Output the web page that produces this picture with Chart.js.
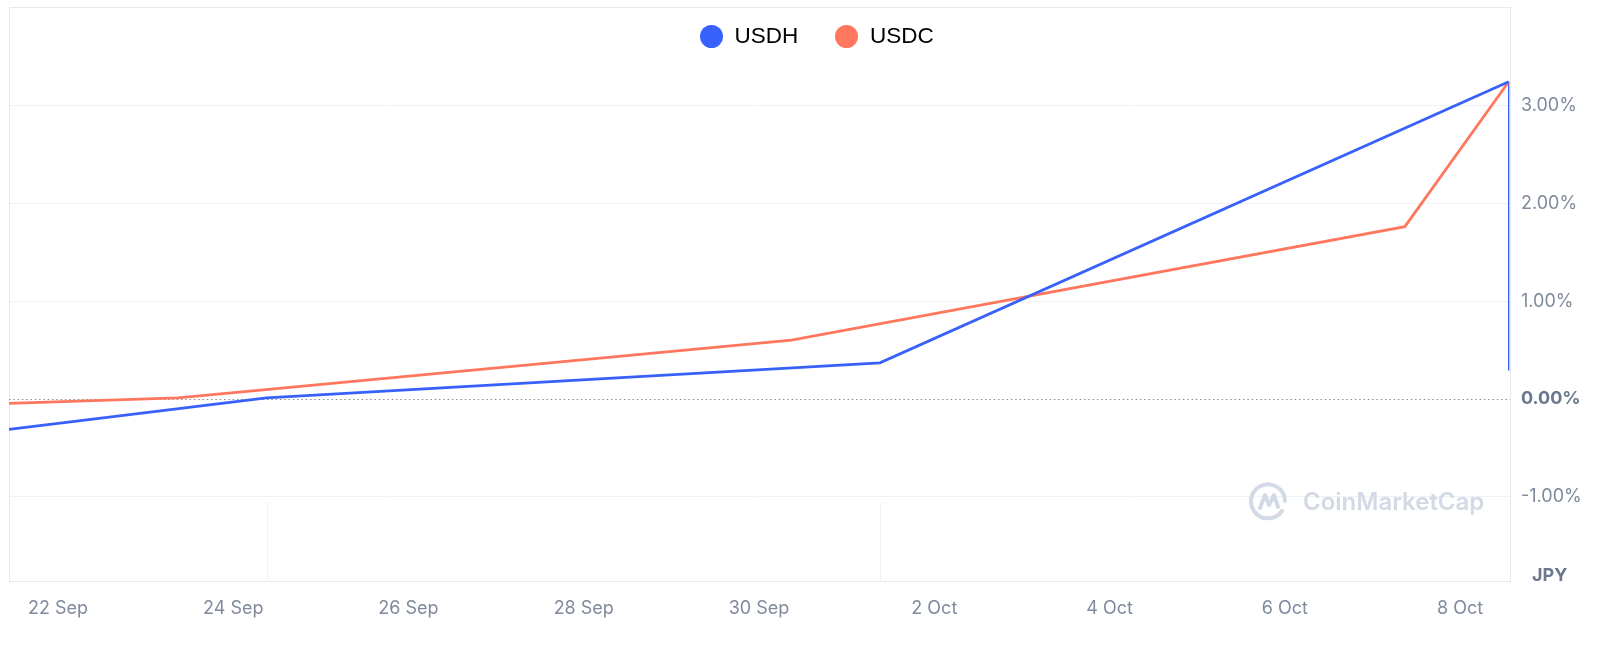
<!DOCTYPE html>
<html><head><meta charset="utf-8">
<script src="https://cdn.jsdelivr.net/npm/chart.js@4.4.0/dist/chart.umd.min.js"></script>
<style>
html,body{margin:0;padding:0;background:#fff;}
#wrap{position:relative;width:1600px;height:649px;overflow:hidden;background:#fff;}
#c{position:absolute;left:0;top:0;}
.lg-item{position:absolute;top:24px;height:24px;display:flex;align-items:center;font:22.5px "Liberation Sans",Arial,sans-serif;color:#000;white-space:nowrap;}
.lg-dot{width:23px;height:23px;border-radius:50%;margin-right:12px;}
#jpy{position:absolute;left:1532px;top:564px;font:700 18px Inter,sans-serif;color:#6b778c;}
#wm{position:absolute;left:1249px;top:481px;display:flex;align-items:center;color:#d3d9e5;font:600 24px Inter,sans-serif;pointer-events:none;}
#wm svg{margin-right:13px;}
</style>
</head><body>
<div id="wrap">
<canvas id="c" width="1600" height="649"></canvas>
<div id="legend"></div>
<div id="jpy">JPY</div>
<div id="wm"><svg width="41" height="41" viewBox="0 0 41 41"><path d="M33 30 A17 17 0 1 1 36 20" fill="none" stroke="#d3d9e5" stroke-width="4" stroke-linecap="round"/><path d="M11 27 L16 14 L20 24 L25 14 L29 26" fill="none" stroke="#d3d9e5" stroke-width="4" stroke-linejoin="round" stroke-linecap="round"/></svg><span>CoinMarketCap</span></div>
</div>
<script>
// ---- data ----
const seriesNames = ['USDH', 'USDC'];
const seriesColors = ['#3861fb', '#ff775f'];
// x = days after 22 Sep 00:00
const usdhDays = [-0.559, 2.38, 9.38, 16.555];
const usdhValues = [-0.314, 0.01, 0.368, 3.247];
const usdcDays = [-0.559, 1.37, 8.37, 15.37, 16.555];
const usdcValues = [-0.048, 0.01, 0.60, 1.763, 3.247];
const markerDays = [16.555, 16.555];
const markerValues = [3.247, 0.29];
const volumeDays = [2.38, 9.38];
const volumeTop = -1.06;
const xTickDays = [0, 2, 4, 6, 8, 10, 12, 14, 16];
const xTickLabels = ['22 Sep', '24 Sep', '26 Sep', '28 Sep', '30 Sep', '2 Oct', '4 Oct', '6 Oct', '8 Oct'];
const yTickValues = [-1, 0, 1, 2, 3];

// ---- legend (HTML) ----
const legendLefts = [699.5, 835];
const legendEl = document.getElementById('legend');
seriesNames.forEach((n, i) => {
  const d = document.createElement('div');
  d.className = 'lg-item';
  d.style.left = legendLefts[i] + 'px';
  d.innerHTML = '<span class="lg-dot" style="background:' + seriesColors[i] + '"></span><span>' + n + '</span>';
  legendEl.appendChild(d);
});

const toPts = (xs, ys) => xs.map((x, i) => ({x: x, y: ys[i]}));

const framePlugin = {
  id: 'frame',
  beforeDatasetsDraw(chart) {
    const {ctx, chartArea: a, scales: {x, y}} = chart;
    ctx.save();
    ctx.lineWidth = 1;
    ctx.strokeStyle = '#e9e9e9';
    ctx.beginPath();
    ctx.moveTo(a.left + 0.5, a.bottom);
    ctx.lineTo(a.left + 0.5, a.top + 0.5);
    ctx.lineTo(a.right, a.top + 0.5);
    ctx.stroke();
    ctx.strokeStyle = '#eff2f5';
    volumeDays.forEach(d => {
      const px = Math.round(x.getPixelForValue(d)) + 0.5;
      ctx.beginPath();
      ctx.moveTo(px, y.getPixelForValue(volumeTop));
      ctx.lineTo(px, a.bottom);
      ctx.stroke();
    });
    const zy = Math.round(y.getPixelForValue(0)) + 0.5;
    ctx.strokeStyle = '#8c8c8c';
    ctx.setLineDash([1.5, 2.8]);
    ctx.beginPath();
    ctx.moveTo(a.left, zy);
    ctx.lineTo(a.right, zy);
    ctx.stroke();
    ctx.restore();
  }
};

new Chart(document.getElementById('c'), {
  type: 'line',
  data: {
    datasets: [
      {label: seriesNames[0], data: toPts(usdhDays, usdhValues), borderColor: seriesColors[0], borderWidth: 2.8, pointRadius: 0, tension: 0},
      {label: seriesNames[1], data: toPts(usdcDays, usdcValues), borderColor: seriesColors[1], borderWidth: 2.8, pointRadius: 0, tension: 0},
      {label: 'marker', data: toPts(markerDays, markerValues), borderColor: '#2f5bff', borderWidth: 1.3, pointRadius: 0, tension: 0}
    ]
  },
  options: {
    responsive: false,
    animation: false,
    events: [],
    layout: {padding: {left: 9, top: 7, right: 0, bottom: 0}},
    plugins: {legend: {display: false}, tooltip: {enabled: false}},
    scales: {
      x: {
        type: 'linear', min: -0.559, max: 16.57,
        afterBuildTicks: s => { s.ticks = xTickDays.map(v => ({value: v})); },
        afterFit: s => { s.height = 68; s.paddingLeft = 0; s.paddingRight = 0; },
        grid: {display: false, drawTicks: false},
        border: {display: true, color: '#e9e9e9'},
        ticks: {
          autoSkip: false, maxRotation: 0, padding: 17,
          font: {family: 'Inter', size: 18},
          color: '#808a9d',
          callback: v => xTickLabels[xTickDays.indexOf(v)]
        }
      },
      y: {
        position: 'right', min: -1.866, max: 4.012,
        afterBuildTicks: s => { s.ticks = yTickValues.map(v => ({value: v})); },
        afterFit: s => { s.width = 90; s.paddingTop = 0; s.paddingBottom = 0; },
        grid: {drawTicks: false, color: c => (c.tick && c.tick.value === 0) ? 'rgba(0,0,0,0)' : '#eff2f5'},
        border: {display: true, color: '#e9e9e9'},
        ticks: {
          padding: 11,
          font: c => (c.tick && c.tick.value === 0) ? {family: 'Inter', size: 18, weight: '700'} : {family: 'Inter', size: 18},
          color: c => (c.tick && c.tick.value === 0) ? '#6b778c' : '#808a9d',
          callback: v => v.toFixed(2) + '%'
        }
      }
    }
  },
  plugins: [framePlugin]
});
</script>
</body></html>
